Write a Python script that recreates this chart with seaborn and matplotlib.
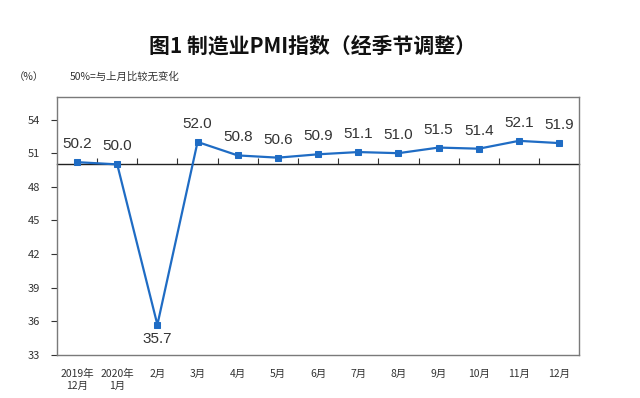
import numpy as np
import matplotlib
matplotlib.use("Agg")
import matplotlib.pyplot as plt
import pandas as pd
import seaborn as sns

sns.set_theme(style="white")
plt.rcParams['font.family'] = ['Noto Sans CJK SC', 'DejaVu Sans']

# data
months = ["2019年\n12月", "2020年\n1月", "2月", "3月", "4月", "5月", "6月",
          "7月", "8月", "9月", "10月", "11月", "12月"]
pmi = [50.2, 50.0, 35.7, 52.0, 50.8, 50.6, 50.9, 51.1, 51.0, 51.5, 51.4, 52.1, 51.9]
yticks = [33, 36, 39, 42, 45, 48, 51, 54]
baseline = 50

df = pd.DataFrame({"month": months, "pmi": pmi})

fig = plt.figure(figsize=(6.4, 3.98), dpi=100)
ax = fig.add_axes([0.089, 0.108, 0.816, 0.648])

blue = "#1f6cc4"
sns.lineplot(data=df, x="month", y="pmi", ax=ax, color=blue, linewidth=1.6,
             marker="s", markersize=5, markeredgecolor=blue, sort=False, zorder=5)

ax.set_xlim(-0.5, len(months) - 0.5)
ax.set_ylim(33, 56)
ax.set_yticks(yticks)
ax.set_xlabel("")
ax.set_ylabel("")
ax.tick_params(axis="y", direction="out", length=4, width=0.8, labelsize=8,
               colors="#333333", left=True, pad=8)
ax.tick_params(axis="x", length=0, labelsize=7.5, colors="#333333", pad=10)
for s in ax.spines.values():
    s.set_color("#7a7a7a")
    s.set_linewidth(1.0)

# 50% line with category separators
pos = (baseline - 33) / (56 - 33)
sec = ax.secondary_xaxis(pos)
sec.set_xticks(np.arange(0.5, len(months) - 1, 1))
sec.set_xticklabels([])
sec.tick_params(direction="out", length=4, width=0.8, color="#333333")
sec.spines["top"].set_color("#222222")
sec.spines["top"].set_linewidth(1.0)

# value labels
for i, v in enumerate(pmi):
    off = -10 if v < 40 else 13
    ax.annotate(f"{v:.1f}", (i, v), xytext=(0, off), textcoords="offset points",
                ha="center", va="center", fontsize=11, color="#333333",
                family=["Liberation Sans", "DejaVu Sans"])

fig.text(0.488, 0.885, "图1 制造业PMI指数（经季节调整）", ha="center", va="center",
         fontsize=15, fontweight="bold", color="#111111")
fig.text(0.022, 0.807, "（%）", ha="left", va="center", fontsize=7.5, color="#333333")
fig.text(0.109, 0.807, "50%=与上月比较无变化", ha="left", va="center", fontsize=7.5,
         color="#333333")

fig.savefig("out.png", dpi=100)
